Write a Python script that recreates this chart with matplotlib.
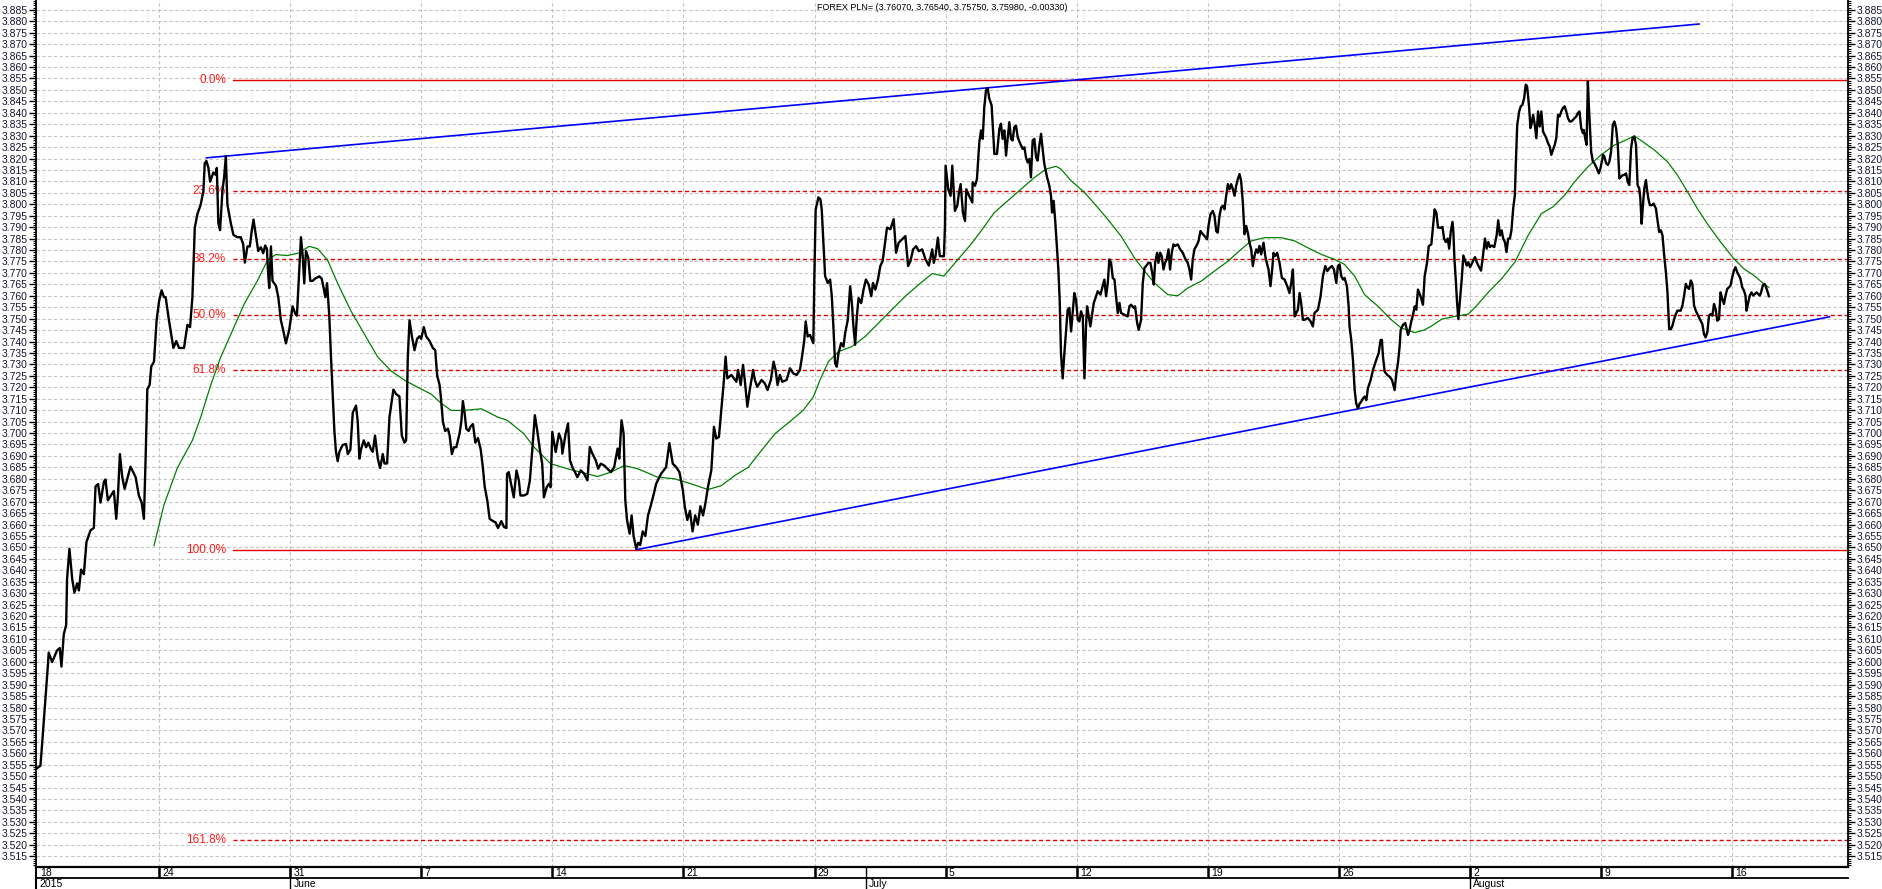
import matplotlib
matplotlib.use("Agg")
import matplotlib.pyplot as plt
from matplotlib.ticker import MultipleLocator, FormatStrFormatter

# --- Data (x = trading weeks, tick "24" = 1) ---
seg_a_t = [0.070, 0.096, 0.108, 0.134, 0.152, 0.159, 0.185, 0.223, 0.243, 0.256,
           0.274, 0.292, 0.299, 0.317, 0.338, 0.355, 0.376, 0.389, 0.406, 0.427,
           0.447, 0.478, 0.503, 0.516, 0.536, 0.554, 0.580, 0.592, 0.610, 0.643,
           0.656, 0.674, 0.687, 0.702, 0.720, 0.738, 0.783, 0.822, 0.847, 0.868,
           0.885, 0.898, 0.911, 0.929, 0.941, 0.962, 0.982, 1.000, 1.020, 1.038,
           1.051, 1.076, 1.110, 1.132, 1.153, 1.191, 1.217, 1.237, 1.255, 1.273,
           1.293, 1.318, 1.339, 1.349, 1.362, 1.377, 1.390, 1.415, 1.433, 1.441,
           1.453, 1.466, 1.484, 1.497, 1.510, 1.522, 1.535, 1.548, 1.568, 1.599,
           1.624, 1.642, 1.655, 1.675, 1.693, 1.706, 1.721, 1.739, 1.757, 1.777,
           1.795, 1.810, 1.823, 1.833, 1.841, 1.854, 1.866, 1.892, 1.910, 1.930,
           1.950, 1.968, 1.994, 2.019, 2.039, 2.052, 2.065, 2.083, 2.096, 2.108,
           2.121, 2.139, 2.154, 2.172, 2.190, 2.223, 2.241, 2.256, 2.269, 2.282,
           2.299, 2.312, 2.325, 2.338, 2.350, 2.363, 2.376, 2.401, 2.427, 2.440,
           2.460, 2.478, 2.503, 2.516, 2.529, 2.541, 2.562, 2.580, 2.597, 2.618,
           2.631, 2.648, 2.669, 2.687, 2.707, 2.720, 2.740, 2.758, 2.771, 2.788,
           2.809, 2.834, 2.852, 2.873, 2.885, 2.898, 2.911, 2.929, 2.949, 2.969,
           2.987, 3.000, 3.020, 3.038, 3.064, 3.089, 3.107, 3.122, 3.140, 3.148,
           3.166, 3.183, 3.204, 3.217, 3.234, 3.250, 3.268, 3.293, 3.306, 3.318,
           3.331, 3.344, 3.362, 3.377, 3.395, 3.413, 3.433, 3.454, 3.471, 3.484,
           3.504, 3.522, 3.548, 3.568, 3.586, 3.611, 3.632, 3.650]
seg_a_v = [3.5535, 3.5546, 3.5636, 3.5838, 3.5979, 3.6040, 3.5999, 3.6050, 3.6060, 3.5979,
           3.6121, 3.6161, 3.6363, 3.6494, 3.6363, 3.6302, 3.6343, 3.6312, 3.6403, 3.6383,
           3.6524, 3.6575, 3.6585, 3.6767, 3.6777, 3.6696, 3.6787, 3.6797, 3.6706, 3.6736,
           3.6746, 3.6625, 3.6726, 3.6908, 3.6807, 3.6756, 3.6853, 3.6807, 3.6726, 3.6696,
           3.6625, 3.6888, 3.7191, 3.7211, 3.7291, 3.7312, 3.7493, 3.7574, 3.7624, 3.7594,
           3.7594, 3.7493, 3.7372, 3.7402, 3.7372, 3.7372, 3.7473, 3.7463, 3.7594, 3.7897,
           3.7957, 3.7998, 3.8058, 3.8179, 3.8189, 3.8159, 3.8099, 3.8139, 3.8129, 3.8159,
           3.7917, 3.7887, 3.8058, 3.8119, 3.8210, 3.7998, 3.7957, 3.7917, 3.7866, 3.7856,
           3.7856, 3.7826, 3.7745, 3.7816, 3.7816, 3.7877, 3.7933, 3.7866, 3.7796, 3.7812,
           3.7786, 3.7820, 3.7806, 3.7695, 3.7634, 3.7816, 3.7665, 3.7644, 3.7594, 3.7493,
           3.7443, 3.7392, 3.7453, 3.7554, 3.7523, 3.7513, 3.7655, 3.7856, 3.7776, 3.7655,
           3.7796, 3.7766, 3.7665, 3.7665, 3.7675, 3.7685, 3.7675, 3.7634, 3.7594, 3.7655,
           3.7513, 3.7332, 3.7170, 3.7009, 3.6918, 3.6877, 3.6918, 3.6948, 3.6952, 3.6908,
           3.6928, 3.7089, 3.7120, 3.7049, 3.6888, 3.6928, 3.6968, 3.6938, 3.6958, 3.6928,
           3.6918, 3.6989, 3.6888, 3.6847, 3.6908, 3.6867, 3.6867, 3.7069, 3.7120, 3.7190,
           3.7170, 3.7160, 3.6989, 3.6958, 3.6968, 3.7332, 3.7493, 3.7423, 3.7362, 3.7412,
           3.7423, 3.7412, 3.7463, 3.7423, 3.7402, 3.7372, 3.7362, 3.7251, 3.7211, 3.7170,
           3.7049, 3.7009, 3.7019, 3.6989, 3.6908, 3.6938, 3.6938, 3.6999, 3.7049, 3.7140,
           3.7089, 3.7019, 3.7009, 3.7029, 3.7039, 3.6958, 3.6978, 3.6928, 3.6847, 3.6767,
           3.6706, 3.6625, 3.6615, 3.6609, 3.6585, 3.6615, 3.6589, 3.6585]

seg_b_t = [3.655, 3.668, 3.686, 3.706, 3.727, 3.745, 3.757, 3.783, 3.809, 3.829,
           3.847, 3.867, 3.885, 3.906, 3.923, 3.936, 3.957, 3.974, 3.987, 4.000,
           4.026, 4.051, 4.069, 4.077, 4.102, 4.120, 4.135, 4.153, 4.179, 4.191,
           4.217, 4.243, 4.268, 4.286, 4.306, 4.332, 4.350, 4.370, 4.396, 4.421,
           4.447, 4.472, 4.498, 4.511, 4.528, 4.544, 4.557,
           4.570, 4.590, 4.605, 4.620, 4.640, 4.655, 4.670, 4.690, 4.710, 4.730,
           4.750, 4.774, 4.792, 4.830, 4.868, 4.893, 4.919, 4.945, 4.970, 4.996,
           5.010, 5.030, 5.050, 5.070, 5.090, 5.110, 5.130, 5.150, 5.170]
seg_b_v = [3.6822, 3.6829, 3.6778, 3.6719, 3.6836, 3.6793, 3.6727, 3.6727, 3.6734, 3.6793,
           3.6924, 3.7078, 3.7012, 3.6924, 3.6866, 3.6719, 3.6763, 3.6778, 3.6763, 3.7005,
           3.6917, 3.6998, 3.6968, 3.6910, 3.6998, 3.7042, 3.6880, 3.6851, 3.6822, 3.6807,
           3.6837, 3.6822, 3.6793, 3.6939, 3.6910, 3.6880, 3.6844, 3.6866, 3.6858, 3.6844,
           3.6829, 3.6851, 3.6932, 3.6888, 3.7056, 3.6998, 3.6705,
           3.6620, 3.6560, 3.6640, 3.6550, 3.6495, 3.6520, 3.6510, 3.6570, 3.6550, 3.6640,
           3.6680, 3.6734, 3.6778, 3.6822, 3.6851, 3.6956, 3.6866, 3.6851, 3.6829, 3.6749,
           3.6680, 3.6620, 3.6660, 3.6570, 3.6640, 3.6600, 3.6680, 3.6640, 3.6700]

seg_c_t = [5.187, 5.213, 5.233, 5.251, 5.271, 5.289, 5.307, 5.322, 5.335, 5.366,
           5.404, 5.417, 5.437, 5.455, 5.468, 5.488, 5.506, 5.532, 5.545, 5.563,
           5.596, 5.621, 5.642, 5.667, 5.688, 5.703, 5.718, 5.736, 5.754, 5.787,
           5.813, 5.838, 5.864, 5.889, 5.907, 5.922, 5.933, 5.948, 5.966, 5.991,
           5.999, 6.009, 6.030, 6.045, 6.055, 6.068, 6.081, 6.101, 6.119, 6.132,
           6.144, 6.157, 6.170, 6.183, 6.203, 6.221, 6.234, 6.254, 6.272, 6.285,
           6.297, 6.310, 6.323, 6.336, 6.356, 6.374, 6.392, 6.413, 6.433, 6.446,
           6.464, 6.484, 6.502, 6.520, 6.535, 6.553, 6.579, 6.604, 6.622, 6.642,
           6.668, 6.693, 6.714, 6.732, 6.752, 6.775, 6.796, 6.821, 6.847, 6.872,
           6.898, 6.910, 6.923, 6.941, 6.956, 6.987, 6.995, 7.000, 7.020, 7.038,
           7.051, 7.071, 7.089, 7.102, 7.115, 7.132, 7.148, 7.158, 7.179, 7.204]
seg_c_v = [3.6763, 3.6837, 3.7027, 3.6976, 3.6983, 3.7100, 3.7217, 3.7334, 3.7239, 3.7254,
           3.7224, 3.7276, 3.7210, 3.7298, 3.7232, 3.7115, 3.7188, 3.7276, 3.7232, 3.7202,
           3.7232, 3.7217, 3.7188, 3.7232, 3.7312, 3.7276, 3.7210, 3.7254, 3.7224, 3.7232,
           3.7283, 3.7261, 3.7254, 3.7276, 3.7342, 3.7407, 3.7488, 3.7422, 3.7429, 3.7393,
           3.7686, 3.7978, 3.8030, 3.8022, 3.7978, 3.7832, 3.7686, 3.7656, 3.7671, 3.7598,
           3.7466, 3.7305, 3.7290, 3.7349, 3.7393, 3.7378, 3.7437, 3.7495, 3.7642, 3.7568,
           3.7466, 3.7386, 3.7510, 3.7590, 3.7568, 3.7627, 3.7671, 3.7649, 3.7598, 3.7656,
           3.7627, 3.7671, 3.7730, 3.7752, 3.7817, 3.7898, 3.7891, 3.7935, 3.7788, 3.7832,
           3.7847, 3.7861, 3.7730, 3.7752, 3.7803, 3.7817, 3.7795, 3.7803, 3.7759, 3.7732,
           3.7803, 3.7744, 3.7773, 3.7854, 3.7773, 3.7773, 3.7905, 3.8169, 3.8066, 3.8037,
           3.8169, 3.7971, 3.7993, 3.8052, 3.8088, 3.7964, 3.7927, 3.8066, 3.8037, 3.8008]

seg_d_t = [7.206, 7.224, 7.239, 7.257, 7.270, 7.283, 7.295, 7.308, 7.321, 7.333,
           7.351, 7.364, 7.372, 7.392, 7.410, 7.422, 7.435, 7.448, 7.461, 7.473,
           7.486, 7.499, 7.511, 7.524, 7.537, 7.550, 7.570, 7.588, 7.601, 7.613,
           7.626, 7.639, 7.651, 7.664, 7.677, 7.690, 7.702, 7.715, 7.728, 7.740,
           7.753, 7.774, 7.791, 7.804, 7.812, 7.824, 7.837, 7.850, 7.860, 7.870,
           7.880, 7.893, 7.906, 7.919, 7.931, 7.944, 7.957, 7.969, 7.982, 7.995,
           8.008, 8.020, 8.033, 8.046, 8.059, 8.071, 8.079, 8.092, 8.104, 8.115,
           8.130, 8.148, 8.160, 8.181, 8.198, 8.211, 8.224, 8.237, 8.249, 8.262,
           8.275, 8.288, 8.300, 8.313, 8.326, 8.338, 8.364, 8.389, 8.402, 8.415,
           8.435, 8.445, 8.461, 8.473, 8.491, 8.504, 8.517, 8.529, 8.547, 8.562,
           8.580, 8.588, 8.598, 8.613, 8.623, 8.636, 8.649, 8.662, 8.674, 8.687,
           8.700, 8.712, 8.725, 8.738, 8.751, 8.771, 8.789, 8.809, 8.830, 8.847,
           8.860, 8.873, 8.885, 8.898, 8.919, 8.929, 8.944, 8.962, 8.975, 8.995,
           9.005, 9.020, 9.038, 9.051, 9.064, 9.076, 9.089, 9.102, 9.115, 9.127,
           9.140, 9.153, 9.166, 9.178, 9.191, 9.204, 9.216, 9.229, 9.242, 9.254,
           9.267, 9.275, 9.280, 9.293, 9.305, 9.318, 9.331, 9.343, 9.356, 9.369,
           9.382, 9.394, 9.407, 9.425, 9.438, 9.450, 9.463, 9.478, 9.491, 9.501,
           9.514, 9.529, 9.547, 9.565, 9.585, 9.606, 9.623, 9.636, 9.649, 9.662,
           9.674, 9.687, 9.700, 9.712, 9.725, 9.738, 9.763, 9.784, 9.801, 9.814,
           9.840, 9.860, 9.878, 9.896, 9.911, 9.929, 9.947, 9.962, 9.980, 9.992,
           10.005, 10.018, 10.031, 10.043, 10.061, 10.074, 10.081, 10.094, 10.107, 10.120,
           10.132, 10.145, 10.158, 10.170, 10.183, 10.196, 10.209, 10.221, 10.242, 10.260,
           10.285, 10.303, 10.318, 10.328, 10.336, 10.349, 10.369, 10.387, 10.405, 10.425,
           10.438, 10.450, 10.463, 10.471, 10.489, 10.506, 10.527, 10.539, 10.552, 10.565,
           10.578, 10.590, 10.603, 10.623, 10.641, 10.654, 10.672, 10.685, 10.705, 10.718,
           10.730, 10.743, 10.756, 10.781]
seg_d_v = [3.8096, 3.8081, 3.8110, 3.8271, 3.8323, 3.8286, 3.8425, 3.8498, 3.8508, 3.8462,
           3.8432, 3.8301, 3.8220, 3.8220, 3.8330, 3.8352, 3.8286, 3.8323, 3.8213, 3.8286,
           3.8359, 3.8286, 3.8279, 3.8337, 3.8344, 3.8293, 3.8264, 3.8242, 3.8249, 3.8205,
           3.8183, 3.8198, 3.8118, 3.8279, 3.8286, 3.8205, 3.8191, 3.8257, 3.8308, 3.8242,
           3.8176, 3.8118, 3.8081, 3.8037, 3.7964, 3.8015, 3.7920, 3.7803, 3.7715, 3.7583,
           3.7349, 3.7239, 3.7349, 3.7451, 3.7539, 3.7547, 3.7444, 3.7525, 3.7612, 3.7583,
           3.7495, 3.7488, 3.7532, 3.7510, 3.7239, 3.7466, 3.7554, 3.7510, 3.7466, 3.7510,
           3.7568, 3.7598, 3.7620, 3.7605, 3.7642, 3.7671, 3.7598, 3.7656, 3.7759, 3.7744,
           3.7678, 3.7671, 3.7598, 3.7525, 3.7569, 3.7525, 3.7517, 3.7510, 3.7554, 3.7561,
           3.7547, 3.7554, 3.7481, 3.7451, 3.7495, 3.7656, 3.7722, 3.7730, 3.7744, 3.7744,
           3.7686, 3.7649, 3.7744, 3.7788, 3.7744, 3.7788, 3.7773, 3.7715, 3.7744, 3.7759,
           3.7803, 3.7715, 3.7788, 3.7825, 3.7818, 3.7825, 3.7803, 3.7788, 3.7759, 3.7744,
           3.7715, 3.7671, 3.7759, 3.7803, 3.7825, 3.7839, 3.7883, 3.7869, 3.7861, 3.7847,
           3.7905, 3.7956, 3.7971, 3.7949, 3.7883, 3.7876, 3.7949, 3.7986, 3.7993, 3.7978,
           3.8037, 3.8088, 3.8066, 3.8088, 3.8066, 3.8037, 3.8081, 3.8110, 3.8132, 3.8103,
           3.8008, 3.7920, 3.7869, 3.7905, 3.7876, 3.7832, 3.7803, 3.7730, 3.7774, 3.7803,
           3.7788, 3.7818, 3.7781, 3.7832, 3.7774, 3.7744, 3.7715, 3.7642, 3.7715, 3.7788,
           3.7774, 3.7788, 3.7744, 3.7678, 3.7671, 3.7642, 3.7612, 3.7656, 3.7715, 3.7510,
           3.7525, 3.7539, 3.7612, 3.7568, 3.7495, 3.7495, 3.7503, 3.7488, 3.7466, 3.7525,
           3.7539, 3.7598, 3.7686, 3.7730, 3.7708, 3.7722, 3.7730, 3.7715, 3.7656, 3.7730,
           3.7737, 3.7686, 3.7671, 3.7678, 3.7642, 3.7554, 3.7466, 3.7407, 3.7320, 3.7188,
           3.7129, 3.7107, 3.7129, 3.7137, 3.7151, 3.7159, 3.7144, 3.7195, 3.7232, 3.7276,
           3.7320, 3.7349, 3.7407, 3.7407, 3.7334, 3.7268, 3.7254, 3.7246, 3.7232, 3.7188,
           3.7261, 3.7305, 3.7378, 3.7451, 3.7473, 3.7481, 3.7429, 3.7451, 3.7488, 3.7517,
           3.7554, 3.7539, 3.7627, 3.7598, 3.7561, 3.7686, 3.7744, 3.7817, 3.7825, 3.7905,
           3.7978, 3.7964, 3.7898, 3.7898]

seg_e_t = [10.790, 10.802, 10.815, 10.830, 10.841, 10.853, 10.866, 10.873, 10.881, 10.891,
           10.901, 10.911, 10.924, 10.937, 10.949, 10.962, 10.975, 10.987, 11.000, 11.013,
           11.025, 11.038, 11.051, 11.063, 11.084, 11.096, 11.114, 11.127, 11.139, 11.152,
           11.165, 11.185, 11.203, 11.215, 11.228, 11.241, 11.253, 11.266, 11.278, 11.291,
           11.304, 11.316, 11.329, 11.342, 11.349, 11.360, 11.375, 11.387, 11.400, 11.413,
           11.425, 11.435, 11.443, 11.451, 11.461, 11.468, 11.481, 11.494, 11.506, 11.519,
           11.532, 11.544, 11.557, 11.570, 11.582, 11.595, 11.608, 11.620, 11.633, 11.646,
           11.658, 11.671, 11.684, 11.696, 11.709, 11.722, 11.734, 11.747, 11.760, 11.772,
           11.785, 11.798, 11.810, 11.823, 11.835, 11.848, 11.861, 11.868, 11.878, 11.889,
           11.899, 11.906, 11.914, 11.924, 11.937, 11.949, 11.967, 11.982, 11.995, 12.005,
           12.015, 12.025, 12.038, 12.051, 12.063, 12.076, 12.089, 12.101, 12.114, 12.127,
           12.139, 12.152, 12.165, 12.177, 12.190, 12.203, 12.215, 12.228, 12.240, 12.253,
           12.266, 12.278, 12.291, 12.299, 12.309, 12.319, 12.329, 12.342, 12.349, 12.360,
           12.372, 12.387, 12.400, 12.418, 12.430, 12.443, 12.456, 12.468, 12.481, 12.494,
           12.506, 12.519, 12.532, 12.544, 12.557, 12.570, 12.582, 12.607, 12.620, 12.633,
           12.646, 12.658, 12.671, 12.684, 12.696, 12.709, 12.722, 12.734, 12.747, 12.760,
           12.772, 12.785, 12.797, 12.810, 12.823, 12.835, 12.848, 12.861, 12.873, 12.886,
           12.899, 12.911, 12.924, 12.937, 12.949, 12.962, 12.975, 12.987, 13.000, 13.013,
           13.025, 13.038, 13.051, 13.063, 13.076, 13.089, 13.101, 13.109, 13.122, 13.134,
           13.147, 13.160, 13.172, 13.185, 13.197, 13.210, 13.220, 13.233, 13.246, 13.258,
           13.271, 13.279]
seg_e_v = [3.7901, 3.7850, 3.7835, 3.7850, 3.7806, 3.7879, 3.7923, 3.7879, 3.7762, 3.7674,
           3.7571, 3.7498, 3.7586, 3.7674, 3.7776, 3.7754, 3.7732, 3.7747, 3.7725, 3.7740,
           3.7754, 3.7769, 3.7747, 3.7732, 3.7710, 3.7762, 3.7850, 3.7806, 3.7835, 3.7813,
           3.7820, 3.7813, 3.7864, 3.7930, 3.7864, 3.7886, 3.7850, 3.7835, 3.7791, 3.7850,
           3.7850, 3.7886, 3.7981, 3.8040, 3.8172, 3.8347, 3.8406, 3.8428, 3.8435, 3.8465,
           3.8523, 3.8516, 3.8472, 3.8421, 3.8333, 3.8347, 3.8391, 3.8347, 3.8289, 3.8406,
           3.8340, 3.8406, 3.8318, 3.8303, 3.8289, 3.8267, 3.8252, 3.8216, 3.8238, 3.8260,
           3.8289, 3.8391, 3.8384, 3.8406, 3.8421, 3.8428, 3.8406, 3.8377, 3.8362, 3.8362,
           3.8369, 3.8377, 3.8384, 3.8399, 3.8406, 3.8333, 3.8311, 3.8325, 3.8289, 3.8260,
           3.8538, 3.8435, 3.8347, 3.8230, 3.8186, 3.8179, 3.8157, 3.8135, 3.8157, 3.8186,
           3.8216, 3.8208, 3.8179, 3.8172, 3.8186, 3.8230, 3.8347, 3.8362, 3.8333, 3.8260,
           3.8113, 3.8120, 3.8128, 3.8128, 3.8135, 3.8098, 3.8084, 3.8245, 3.8289, 3.8296,
           3.8260, 3.8084, 3.8069, 3.8025, 3.7915, 3.7996, 3.8069, 3.8106, 3.8069, 3.8025,
           3.7996, 3.7996, 3.8003, 3.7981, 3.7930, 3.7879, 3.7886, 3.7864, 3.7776, 3.7703,
           3.7615, 3.7454, 3.7454, 3.7469, 3.7498, 3.7520, 3.7535, 3.7535, 3.7557, 3.7601,
           3.7652, 3.7637, 3.7630, 3.7667, 3.7652, 3.7557, 3.7535, 3.7520, 3.7505, 3.7491,
           3.7476, 3.7432, 3.7418, 3.7440, 3.7513, 3.7520, 3.7513, 3.7564, 3.7542, 3.7491,
           3.7498, 3.7615, 3.7586, 3.7564, 3.7601, 3.7630, 3.7637, 3.7645, 3.7681, 3.7710,
           3.7725, 3.7703, 3.7689, 3.7674, 3.7637, 3.7623, 3.7601, 3.7535, 3.7571, 3.7601,
           3.7615, 3.7601, 3.7608, 3.7615, 3.7608, 3.7601, 3.7615, 3.7645, 3.7652, 3.7637,
           3.7615, 3.7598]

ma_t = [0.962, 1.038, 1.14, 1.255, 1.318, 1.395, 1.471, 1.548, 1.65, 1.75,
        1.828, 1.89, 1.98, 2.06, 2.146, 2.21, 2.287, 2.363, 2.465, 2.567,
        2.669, 2.771, 2.873, 2.974, 3.076, 3.153, 3.229, 3.331, 3.459, 3.586,
        3.656, 3.783, 3.86, 3.987, 4.115, 4.217, 4.345, 4.447, 4.549, 4.651,
        4.804, 4.932, 5.059, 5.187, 5.289, 5.391, 5.494, 5.596, 5.698, 5.825,
        5.915, 5.991, 6.042, 6.106, 6.183, 6.285, 6.387, 6.489, 6.591, 6.693,
        6.795, 6.898, 6.987, 7.051, 7.127, 7.193, 7.27, 7.372, 7.473, 7.575,
        7.677, 7.766, 7.842, 7.88, 7.957, 8.059, 8.16, 8.237, 8.338, 8.44,
        8.517, 8.593, 8.695, 8.771, 8.847, 8.949, 9.051, 9.153, 9.254, 9.331,
        9.433, 9.56, 9.662, 9.763, 9.865, 9.967, 10.043, 10.12, 10.196, 10.298,
        10.4, 10.476, 10.578, 10.654, 10.709, 10.785, 10.886, 10.987, 11.051, 11.139,
        11.24, 11.342, 11.443, 11.544, 11.633, 11.722, 11.797, 11.899, 12.0, 12.101,
        12.19, 12.253, 12.316, 12.405, 12.506, 12.582, 12.658, 12.734, 12.81, 12.911,
        13.013, 13.089, 13.165, 13.241, 13.278]
ma = [3.6508, 3.6686, 3.6847, 3.6968, 3.7069, 3.7210, 3.7332, 3.7432, 3.7564, 3.7665,
      3.7755, 3.7780, 3.7776, 3.7786, 3.7816, 3.7806, 3.7755, 3.7654, 3.7533, 3.7432,
      3.7332, 3.7271, 3.7231, 3.7200, 3.7170, 3.7130, 3.7099, 3.7099, 3.7106, 3.7069,
      3.7056, 3.6997, 3.6939, 3.6866, 3.6844, 3.6829, 3.6810, 3.6829, 3.6858, 3.6844,
      3.6807, 3.6800, 3.6778, 3.6753, 3.6770, 3.6814, 3.6850, 3.6924, 3.6997, 3.7056,
      3.7100, 3.7158, 3.7232, 3.7312, 3.7356, 3.7378, 3.7422, 3.7481, 3.7540, 3.7598,
      3.7649, 3.7697, 3.7686, 3.7730, 3.7781, 3.7825, 3.7883, 3.7964, 3.8015, 3.8066,
      3.8117, 3.8154, 3.8166, 3.8154, 3.8103, 3.8052, 3.7986, 3.7934, 3.7861, 3.7766,
      3.7708, 3.7656, 3.7605, 3.7600, 3.7634, 3.7664, 3.7708, 3.7751, 3.7803, 3.7840,
      3.7854, 3.7854, 3.7840, 3.7810, 3.7781, 3.7759, 3.7737, 3.7686, 3.7605, 3.7554,
      3.7495, 3.7459, 3.7439, 3.7451, 3.7469, 3.7498, 3.7510, 3.7520, 3.7557, 3.7615,
      3.7674, 3.7747, 3.7864, 3.7959, 3.7989, 3.8040, 3.8098, 3.8164, 3.8216, 3.8259,
      3.8281, 3.8299, 3.8274, 3.8238, 3.8186, 3.8128, 3.8055, 3.7981, 3.7915, 3.7835,
      3.7762, 3.7718, 3.7689, 3.7652, 3.7637]

upper_t = [1.362, 12.747]
upper_v = [3.8203, 3.8788]
lower_t = [4.64, 13.742]
lower_v = [3.6490, 3.7508]

fib_high = 3.8545
fib_low = 3.6490
fib_ratios = [0.0, 0.236, 0.382, 0.5, 0.618, 1.0, 1.618]
fib_labels = ['0.0%', '23.6%', '38.2%', '50.0%', '61.8%', '100.0%', '161.8%']

week_pos = [0.067, 1, 2, 3, 4, 5, 6, 7, 8, 9, 10, 11, 12, 13]
week_labels = ['18', '24', '31', '7', '14', '21', '29', '5', '12', '19', '26', '2', '9', '16']
month_pos = [0.067, 2.0, 6.39, 11.0]
month_labels = ['2015', 'June', 'July', 'August']
title_text = 'FOREX PLN= (3.76070, 3.76540, 3.75750, 3.75980, -0.00330)'

price_t = seg_a_t + seg_b_t + seg_c_t + seg_d_t + seg_e_t
price = seg_a_v + seg_b_v + seg_c_v + seg_d_v + seg_e_v
assert len(price_t) == len(price) and len(ma_t) == len(ma)

# --- Figure ---
plt.rcParams['font.family'] = ['Liberation Sans', 'DejaVu Sans']
W, H = 1883, 889
fig = plt.figure(figsize=(W / 100, H / 100), dpi=100)
x0, x1 = 0.062, 13.883

ax = fig.add_axes([36 / W, 22 / H, 1812 / W, 867 / H])
ax.set_xlim(x0, x1)
ax.set_ylim(3.5103, 3.8893)

ax.set_xticks(week_pos[1:])
ax.yaxis.set_major_locator(MultipleLocator(0.005))
ax.yaxis.set_minor_locator(MultipleLocator(0.001))
ax.yaxis.set_major_formatter(FormatStrFormatter('%.3f'))
ax.grid(True, which='major', color='#c4c4c4', linestyle=(0, (3, 2.2)), linewidth=0.8)
ax.set_axisbelow(True)
ax.tick_params(axis='x', which='both', length=0, labelbottom=False)
ax.tick_params(axis='y', which='major', left=True, right=True, labelleft=True,
               labelright=True, direction='out', length=5, width=1, pad=1,
               labelsize=7.5, labelcolor='#151530')
ax.tick_params(axis='y', which='minor', left=True, right=True, direction='out',
               length=2.5, width=0.8)
ax.spines['top'].set_visible(False)
for s in ['left', 'right']:
    ax.spines[s].set_linewidth(1.3)
ax.spines['bottom'].set_linewidth(1.6)

# Fibonacci levels
rng = fib_high - fib_low
for r, lab in zip(fib_ratios, fib_labels):
    lvl = fib_high - r * rng
    ls = '-' if r in (0.0, 1.0) else (0, (3, 2))
    ax.plot([1.564, x1], [lvl, lvl], color='#e00000', lw=1.0, linestyle=ls, zorder=2)
    ax.text(1.511, lvl, lab, ha='right', va='center', color='#ff1a1a',
            fontsize=8.5, zorder=2)

# trend lines
ax.plot(upper_t, upper_v, color='#0000ff', lw=1.2, zorder=3)
ax.plot(lower_t, lower_v, color='#0000ff', lw=1.2, zorder=3)

# moving average and price
ax.plot(ma_t, ma, color='#008000', lw=0.9, zorder=4)
ax.plot(price_t, price, color='black', lw=1.7, zorder=5, solid_joinstyle='round')

fig.text(942 / W, 1 - 7 / H, title_text, ha='center', va='center', fontsize=6.5)

# --- Date strip ---
axd = fig.add_axes([36 / W, 0, 1812 / W, 22 / H])
axd.set_xlim(x0, x1)
axd.set_ylim(0, 2)
axd.axis('off')
axd.plot([x0, x1], [1, 1], color='black', lw=1.3, clip_on=False)
axd.plot([x0, x0], [0, 2], color='black', lw=1.5, clip_on=False)
axd.vlines(week_pos[1:], 1, 2, color='black', lw=1.8)
axd.vlines(month_pos[1:], 0, 2, color='black', lw=1.0)
for p, lab in zip(week_pos, week_labels):
    axd.text(p + 0.025, 1.5, lab, ha='left', va='center', fontsize=7.5)
for p, lab in zip(month_pos, month_labels):
    axd.text(p + 0.025, 0.48, lab, ha='left', va='center', fontsize=7.5)

fig.savefig('out.png', dpi=100)
